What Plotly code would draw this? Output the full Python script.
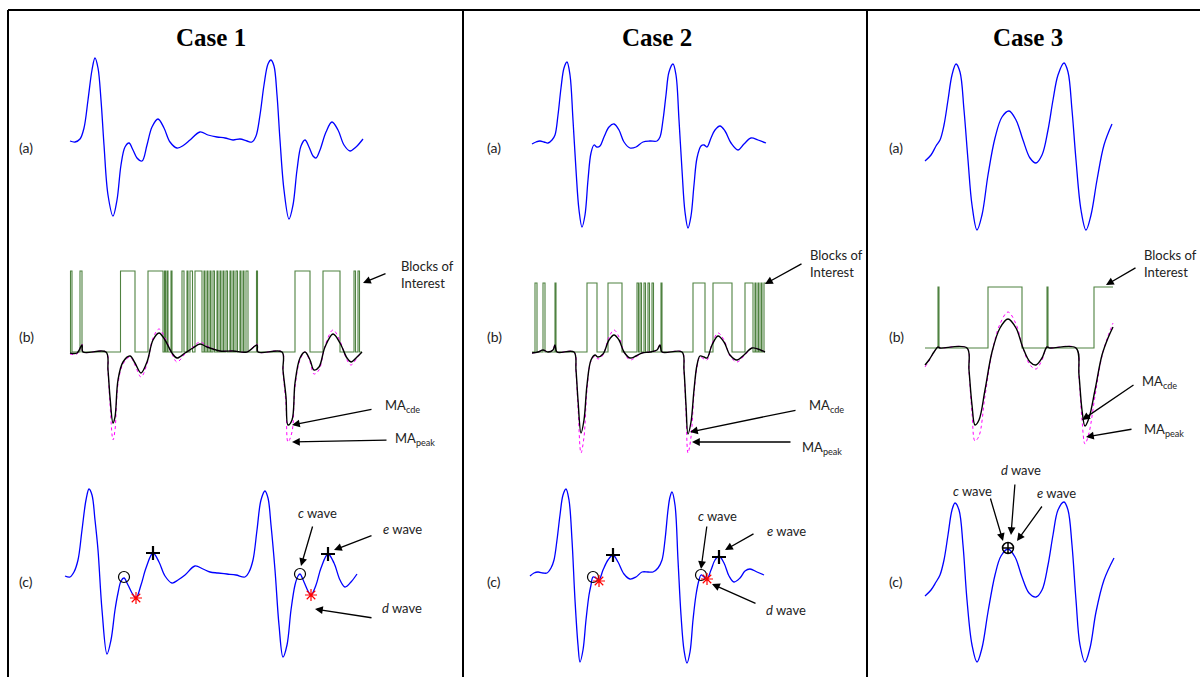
import plotly.graph_objects as go

# ======================= DATA =======================
# time in samples from the start of each case; amplitude in arbitrary units (0 = baseline)

# ---------- Case 1 ----------
case1_a_t = [5, 10, 15, 19, 23, 27, 30, 33, 36, 39, 43, 48, 52, 56, 60, 64, 68, 72, 77, 82, 87, 93, 99, 105,
             112, 119, 125, 135, 143, 152, 160, 168, 175, 182, 187, 191, 195, 199, 203, 206, 209, 212, 215,
             219, 224, 228, 232, 236, 240, 244, 248, 251, 255, 261, 267, 273, 279, 285, 291, 298]
case1_a_v = [0, -1, 2, 13, 41, 71, 83, 73, 41, -4, -54, -75, -59, -24, -6, -2, -9, -17, -20, -4, 14, 22, 13, -1,
             -7, -4, 1, 9, 6, 4, 3, 1, 2, 0, -1, 5, 26, 56, 77, 81, 75, 46, 1,
             -49, -78, -64, -29, -5, 1, -6, -15, -17, -9, 9, 19, 11, -4, -10, -6, 2]

case1_ma_t = [5, 12, 17, 18, 41, 43, 45, 48, 50, 53, 58, 65, 70, 76, 82, 88, 94, 100, 107, 112, 120, 128, 135,
              142, 155, 168, 182, 192, 193, 217, 218, 221, 223, 227, 230, 235, 240, 245, 249, 254, 260, 268,
              275, 282, 286, 292, 297]
case1_macde = [-1, -1, 7, 0, 0, -18, -45, -71, -65, -28, -10, -4, -11, -21, -10, 12, 19, 12, -1, -6, -1, 4, 8,
               5, 1, 1, 0, 7, 0, 0, -18, -45, -73, -68, -31, -6, 0, -8, -18, -15, 5, 18,
               9, -6, -10, -5, 0]
case1_mapeak = [-2, -2, 8, 0, 0, -20, -52, -88, -78, -32, -12, -5, -13, -25, -12, 14, 23, 14, -2, -10, -2, 5, 10,
                6, 1, 1, 0, 8, 0, 0, -20, -52, -90, -80, -35, -8, 0, -10, -22, -18, 6, 22,
                11, -8, -13, -6, 0]
case1_blocks = [(5.5, 7), (15, 17), (55.5, 70), (83, 98), (99.5, 100.5), (102, 103), (106, 107), (117, 119),
                (122, 123), (125, 127.5), (130, 137), (139, 140), (142, 143), (145, 146), (148, 149.5),
                (152, 153), (155, 156), (158, 159), (161, 162.5), (165, 166), (168, 169), (171, 172.5),
                (175, 176), (178, 179), (181, 183), (191.5, 192.5), (230, 245), (258, 275), (289, 290.5),
                (293, 294.5)]
case1_block_span = (5, 297)
case1_block_level = 81

case1_c_t = [0, 5, 9, 13, 17, 21, 24, 27, 30, 33, 37, 42, 46, 50, 53, 56, 59, 63, 67, 71, 76, 81, 88, 94, 100,
             107, 113, 120, 130, 138, 145, 153, 162, 171, 180, 184, 188, 192, 196, 200, 203, 206, 210, 214,
             218, 222, 226, 230, 233, 235, 239, 243, 246, 251, 256, 263, 269, 275, 280, 286, 292]
case1_c_v = [0, -1, 4, 16, 46, 76, 87, 81, 56, 26, -34, -78, -64, -34, -17, -5, -2, -9, -17, -22, -9, 8, 23, 14, 0,
             -7, -4, 1, 10, 7, 4, 3, 2, 1, -1, 4, 16, 46, 76, 85, 78, 51, 6, -49,
             -81, -69, -34, -9, 0, 2, -6, -15, -19, -9, 8, 22, 13, -4, -11, -6, 2]
case1_cwave = ([59, 235], [-1, 2])
case1_dwave = ([71, 246], [-22, -19])
case1_ewave = ([88, 263], [23, 22])

# ---------- Case 2 ----------
case2_a_t = [2, 6, 10, 14, 18, 22, 25, 28, 31, 34, 37, 40, 43, 46, 49, 52, 55, 58, 61, 64, 67, 70, 74, 79, 84,
             89, 94, 100, 106, 113, 120, 127, 130, 133, 136, 139, 143, 146, 149, 152, 155, 158, 161, 164,
             167, 171, 174, 177, 181, 185, 190, 195, 201, 208, 214, 221, 228, 236]
case2_a_v = [-3, -1, 0, -1, -2, 1, 6, 26, 53, 73, 79, 66, 21, -29, -69, -86, -74, -39, -12, -4, -6, -5, 4, 14, 17,
             11, -1, -7, -6, -1, 0, 0, 4, 21, 46, 69, 77, 66, 21, -29, -71, -87, -75, -44,
             -17, -5, -4, -6, 3, 11, 15, 10, -2, -9, -3, 3, 1, -2]

case2_ma_t = [2, 8, 13, 18, 23, 25, 27, 44, 46, 48, 51, 54, 57, 61, 65, 68, 73, 79, 84, 89, 94, 100, 106, 112,
              120, 127, 130, 132, 152, 154, 156, 158, 161, 164, 167, 170, 174, 177, 182, 188, 194, 200, 207,
              214, 222, 228, 235]
case2_macde = [-1, 0, 2, 0, 2, 7, 0, 0, -18, -48, -81, -68, -33, -8, -3, -5, -2, 12, 17, 12, 0, -6, -4, -1,
               0, 2, 7, 0, 0, -18, -53, -82, -70, -38, -13, -4, -5, -6, 7, 16, 10, -3, -8,
               -3, 4, 3, 0]
case2_mapeak = [-1, 0, 2, 0, 2, 8, 0, 0, -20, -55, -101, -85, -38, -9, -4, -7, -3, 15, 22, 15, 0, -8, -5, -1,
                0, 2, 8, 0, 0, -20, -60, -101, -85, -42, -15, -5, -7, -8, 8, 19, 12, -4, -10,
                -4, 4, 3, 0]
case2_blocks = [(5, 7), (13, 15), (25, 26), (57, 67), (78, 92), (107, 108.5), (110, 111.5), (114, 115.5),
                (118, 119.5), (122, 123.5), (131, 132), (163, 175), (183, 202), (215, 223), (225, 226),
                (228, 229), (231, 232), (234, 236)]
case2_block_span = (2, 236)
case2_block_level = 69

case2_c_t = [0, 4, 8, 13, 17, 21, 24, 27, 30, 33, 36, 39, 42, 45, 48, 50, 53, 56, 59, 61, 63, 66, 69, 73, 78,
             83, 88, 94, 100, 106, 112, 118, 123, 128, 132, 135, 138, 140, 142, 145, 148, 151, 154, 157,
             160, 163, 166, 169, 171, 174, 177, 181, 185, 189, 194, 199, 204, 210, 215, 220, 227, 234]
case2_c_v = [0, 3, 4, 3, 3, 8, 16, 36, 61, 81, 87, 76, 36, -24, -69, -86, -74, -44, -19, -9, -1, -2, -4, 6, 16,
             21, 14, 2, -3, -1, 4, 4, 4, 8, 16, 36, 66, 79, 84, 71, 16, -39, -74, -87,
             -76, -44, -19, -4, 1, -1, -3, 6, 16, 20, 13, 0, -6, -2, 5, 7, 4, 1]
case2_cwave = ([63, 171], [-1, 1])
case2_dwave = ([69, 177], [-5, -3])
case2_ewave = ([83, 189], [21, 19])

# ---------- Case 3 ----------
case3_a_t = [0, 6, 11, 15, 19, 23, 27, 31, 35, 39, 43, 47, 52, 57, 63, 70, 77, 84, 91, 98, 105, 111, 117, 123,
             128, 133, 139, 143, 147, 151, 156, 161, 166, 172, 179, 187]
case3_a_v = [-20, -14, -5, 1, 16, 41, 66, 77, 69, 31, -19, -64, -89, -74, -34, 3, 24, 30, 21, 1, -17, -22, -14,
             11, 41, 66, 78, 69, 31, -19, -69, -89, -74, -39, -4, 17]

case3_ma_t = [0, 4, 9, 13, 15, 42, 44, 47, 50, 54, 60, 67, 75, 83, 91, 98, 105, 111, 117, 122, 125, 151, 154,
              157, 160, 164, 170, 177, 183, 188]
case3_macde = [-17, -12, -4, 1, 0, 0, -22, -57, -77, -72, -42, -4, 20, 29, 20, 0, -14, -17, -10, 1, 0, 0, -27,
               -62, -78, -70, -42, -7, 10, 21]
case3_mapeak = [-19, -13, -4, 1, 0, 0, -24, -65, -93, -88, -48, -5, 24, 36, 24, 0, -17, -21, -12, 1, 0, 0, -30,
                -72, -96, -85, -48, -8, 12, 25]
case3_blocks = [(13, 14), (63, 97), (122, 123), (169, 188)]
case3_block_span = (0, 188)
case3_block_level = 61

case3_c_t = [0, 6, 11, 15, 19, 23, 27, 30, 34, 38, 42, 47, 52, 57, 63, 70, 76, 83, 90, 97, 104, 111, 117, 123,
             128, 133, 139, 143, 147, 151, 155, 160, 165, 171, 179, 189]
case3_c_v = [-20, -14, -6, 1, 16, 41, 66, 73, 66, 31, -24, -69, -86, -72, -36, 1, 20, 27, 19, -1, -17, -21, -14,
             11, 41, 66, 74, 66, 31, -24, -69, -86, -72, -36, -4, 18]
case3_cde = ([83], [28])

case_titles = ["Case 1", "Case 2", "Case 3"]
row_labels = ["(a)", "(b)", "(c)"]

# ======================= LAYOUT HELPERS =======================
W, H = 1200, 677
col_origin = [65, 530, 925]          # pixel x where t = 0 in each column
baseline = [[141, 141, 141],          # pixel y of the zero level, row (a)
            [352, 352, 348],          # row (b)
            [576, 576, 576]]          # row (c)

BLUE = "#0000ff"
GREEN = "#4f8240"
MAG = "#ff00ff"
FONT = "Lato"

fig = go.Figure()


def ax(col, row):
    p = row * 3 + col + 1
    return ("x" if col == 0 else f"x{col + 1}"), ("y" if p == 1 else f"y{p}")


def add_line(col, row, t, v, color, width=1.3, dash="solid", shape="spline"):
    xa, ya = ax(col, row)
    line = dict(color=color, width=width, dash=dash, shape=shape)
    if shape == "spline":
        line["smoothing"] = 1.0
    fig.add_trace(go.Scatter(x=t, y=v, mode="lines", xaxis=xa, yaxis=ya, line=line,
                             hoverinfo="skip", showlegend=False))


def add_blocks(col, row, blocks, span, level):
    t0, t1 = span
    xs, ys = [t0], [0]
    for s, e in blocks:
        xs += [s, s, e, e]
        ys += [0, level, level, 0]
    if blocks and blocks[-1][1] >= t1:
        xs, ys = xs[:-1], ys[:-1]
    else:
        xs.append(t1); ys.append(0)
    add_line(col, row, xs, ys, GREEN, width=1.1, shape="linear")


def add_marker(col, row, pts, symbol, color, size, lw):
    xa, ya = ax(col, row)
    fig.add_trace(go.Scatter(x=pts[0], y=pts[1], mode="markers", xaxis=xa, yaxis=ya,
                             marker=dict(symbol=symbol, size=size, color=color,
                                         line=dict(color=color, width=lw)),
                             hoverinfo="skip", showlegend=False))


annots = []


def arrow(col, row, tail, tip):
    xa, ya = ax(col, row)
    annots.append(dict(x=tip[0], y=tip[1], ax=tail[0], ay=tail[1], xref=xa, yref=ya, axref=xa, ayref=ya,
                       text="", showarrow=True, arrowhead=2, arrowsize=1.2, arrowwidth=1.3,
                       arrowcolor="black", standoff=0, startstandoff=0))


def label(col, row, pos, text, anchor="center"):
    xa, ya = ax(col, row)
    annots.append(dict(x=pos[0], y=pos[1], xref=xa, yref=ya, text=text, showarrow=False,
                       xanchor=anchor, yanchor="middle", align="left",
                       font=dict(family=FONT, size=13, color="#222222")))


# ---------------- Case 1 ----------------
add_line(0, 0, case1_a_t, case1_a_v, BLUE)
add_blocks(0, 1, case1_blocks, case1_block_span, case1_block_level)
add_line(0, 1, case1_ma_t, case1_mapeak, MAG, width=1.0, dash="dot")
add_line(0, 1, case1_ma_t, case1_macde, "black", width=1.4)
add_line(0, 2, case1_c_t, case1_c_v, BLUE)
add_marker(0, 2, case1_cwave, "circle-open", "black", 11, 1.2)
add_marker(0, 2, case1_dwave, "asterisk-open", "red", 10, 1.2)
add_marker(0, 2, case1_ewave, "cross-thin-open", "black", 10, 2.2)

# ---------------- Case 2 ----------------
add_line(1, 0, case2_a_t, case2_a_v, BLUE)
add_blocks(1, 1, case2_blocks, case2_block_span, case2_block_level)
add_line(1, 1, case2_ma_t, case2_mapeak, MAG, width=1.0, dash="dot")
add_line(1, 1, case2_ma_t, case2_macde, "black", width=1.4)
add_line(1, 2, case2_c_t, case2_c_v, BLUE)
add_marker(1, 2, case2_cwave, "circle-open", "black", 11, 1.2)
add_marker(1, 2, case2_dwave, "asterisk-open", "red", 10, 1.2)
add_marker(1, 2, case2_ewave, "cross-thin-open", "black", 10, 2.2)

# ---------------- Case 3 ----------------
add_line(2, 0, case3_a_t, case3_a_v, BLUE)
add_blocks(2, 1, case3_blocks, case3_block_span, case3_block_level)
add_line(2, 1, case3_ma_t, case3_mapeak, MAG, width=1.0, dash="dot")
add_line(2, 1, case3_ma_t, case3_macde, "black", width=1.4)
add_line(2, 2, case3_c_t, case3_c_v, BLUE)
add_marker(2, 2, case3_cde, "circle-cross-open", "black", 11, 1.5)

# ---------------- arrows & labels ----------------
blocks_txt = "Blocks of<br>Interest"
cde_txt = "MA<sub>cde</sub>"
peak_txt = "MA<sub>peak</sub>"

# Case 1 (b)
label(0, 1, (334, 78), blocks_txt, "left")
arrow(0, 1, (322, 79), (298, 69))
label(0, 1, (318, -54), cde_txt, "left")
arrow(0, 1, (308, -57), (227, -73))
label(0, 1, (328, -87), peak_txt, "left")
arrow(0, 1, (323, -88), (227, -90))
# Case 1 (c)
label(0, 2, (252, 63), "<i>c</i> wave")
arrow(0, 2, (248, 51), (236, 10))
label(0, 2, (337, 47), "<i>e</i> wave")
arrow(0, 2, (308, 41), (269, 26))
label(0, 2, (337, -32), "<i>d</i> wave")
arrow(0, 2, (308, -42), (250, -33))

# Case 2 (b)
label(1, 1, (278, 89), blocks_txt, "left")
arrow(1, 1, (273, 89), (235, 68))
label(1, 1, (277, -54), cde_txt, "left")
arrow(1, 1, (267, -58), (160, -80))
label(1, 1, (270, -96), peak_txt, "left")
arrow(1, 1, (262, -90), (162, -90))
# Case 2 (c)
label(1, 2, (187, 60), "<i>c</i> wave")
arrow(1, 2, (177, 51), (171, 7))
label(1, 2, (256, 45), "<i>e</i> wave")
arrow(1, 2, (225, 43), (195, 26))
label(1, 2, (256, -34), "<i>d</i> wave")
arrow(1, 2, (227, -28), (182, -8))

# Case 3 (b)
label(2, 1, (217, 85), blocks_txt, "left")
arrow(2, 1, (212, 81), (181, 63))
label(2, 1, (215, -34), cde_txt, "left")
arrow(2, 1, (210, -36), (157, -72))
label(2, 1, (217, -82), peak_txt, "left")
arrow(2, 1, (208, -81), (161, -89))
# Case 3 (c)
label(2, 2, (96, 106), "<i>d</i> wave")
arrow(2, 2, (90, 93), (86, 41))
label(2, 2, (47, 85), "<i>c</i> wave")
arrow(2, 2, (65, 79), (78, 35))
label(2, 2, (131, 83), "<i>e</i> wave")
arrow(2, 2, (118, 71), (92, 35))

# titles and row labels (paper coordinates)
title_x = [211, 657, 1028]
for i, txt in enumerate(case_titles):
    annots.append(dict(x=title_x[i] / W, y=1 - 37 / H, xref="paper", yref="paper", text=f"<b>{txt}</b>",
                       showarrow=False, xanchor="center", yanchor="middle",
                       font=dict(family="Liberation Serif", size=25, color="black")))
label_x = [17, 485, 887]
label_y = [148, 337, 581]
for c in range(3):
    for r, txt in enumerate(row_labels):
        annots.append(dict(x=label_x[c] / W, y=1 - label_y[r] / H, xref="paper", yref="paper", text=txt,
                           showarrow=False, xanchor="left", yanchor="middle",
                           font=dict(family=FONT, size=14, color="#222222")))

# ---------------- axes ----------------
layout_axes = {}
for c in range(3):
    name = "xaxis" if c == 0 else f"xaxis{c + 1}"
    layout_axes[name] = dict(domain=[0, 1], range=[-col_origin[c], W - col_origin[c]], visible=False,
                             fixedrange=True)
for r in range(3):
    for c in range(3):
        p = r * 3 + c + 1
        name = "yaxis" if p == 1 else f"yaxis{p}"
        B = baseline[r][c]
        layout_axes[name] = dict(domain=[0, 1], range=[B - H, B], visible=False, fixedrange=True,
                                 anchor="x" if c == 0 else f"x{c + 1}")

# frame lines
shapes = []
frame = dict(type="line", xref="paper", yref="paper", line=dict(color="black", width=2))
shapes.append({**frame, "x0": 8 / W, "x1": 1, "y0": 1 - 10 / H, "y1": 1 - 10 / H})
for xp in [8, 463, 867]:
    shapes.append({**frame, "x0": xp / W, "x1": xp / W, "y0": 0, "y1": 1 - 10 / H})

fig.update_layout(width=W, height=H, margin=dict(l=0, r=0, t=0, b=0),
                  paper_bgcolor="white", plot_bgcolor="rgba(0,0,0,0)",
                  annotations=annots, shapes=shapes, showlegend=False, **layout_axes)

fig.write_html("out.html", config={"displayModeBar": False},
               post_script="document.body.style.margin='0px';document.body.style.padding='0px';")
